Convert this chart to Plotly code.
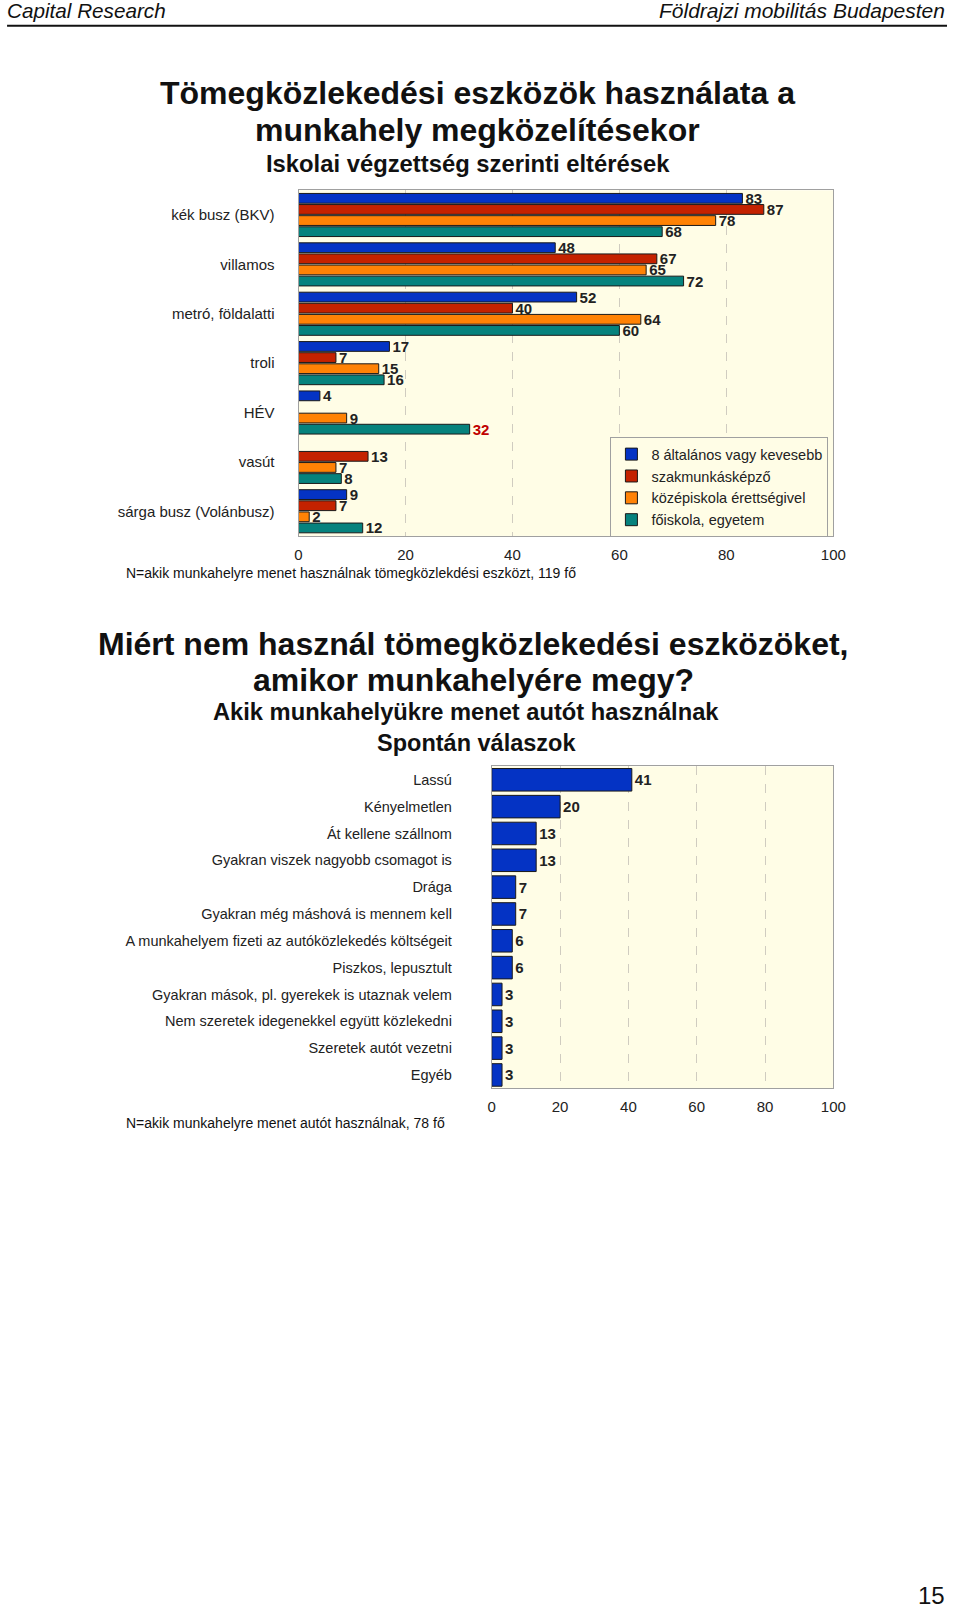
import plotly.graph_objects as go

# ---------- data ----------
modes = ["kék busz (BKV)", "villamos", "metró, földalatti", "troli", "HÉV", "vasút",
         "sárga busz (Volánbusz)"]
series_names = ["8 általános vagy kevesebb", "szakmunkásképző",
                "középiskola érettségivel", "főiskola, egyetem"]
elem = [83, 48, 52, 17, 4, None, 9]
szakm = [87, 67, 40, 7, None, 13, 7]
kozep = [78, 65, 64, 15, 9, 7, 2]
fois = [68, 72, 60, 16, 32, 8, 12]
series_vals = [elem, szakm, kozep, fois]
series_colors = ["#0433C4", "#C42200", "#FF8205", "#06827D"]

reasons = ["Lassú", "Kényelmetlen", "Át kellene szállnom", "Gyakran viszek nagyobb csomagot is",
           "Drága", "Gyakran még máshová is mennem kell",
           "A munkahelyem fizeti az autóközlekedés költségeit", "Piszkos, lepusztult",
           "Gyakran mások, pl. gyerekek is utaznak velem",
           "Nem szeretek idegenekkel együtt közlekedni", "Szeretek autót vezetni", "Egyéb"]
reason_vals = [41, 20, 13, 13, 7, 7, 6, 6, 3, 3, 3, 3]

W, H = 960, 1613
SY = 1613 / 1568.0          # measured coordinates -> page pixels (vertical)
SX = SY * 1.012             # measured coordinates -> page pixels (horizontal)
FONT = "Liberation Sans, Arial, sans-serif"
BG = "#FFFDE6"


def px_y(p):
    return 1 - p * SY / H


def px_x(p):
    return min(1.0, p * SX / W)


fig = go.Figure()

for name, vals, col in zip(series_names, series_vals, series_colors):
    tcol = ["#C00000" if (name == "főiskola, egyetem" and m == "HÉV") else "#222222" for m in modes]
    fig.add_trace(go.Bar(
        y=modes, x=vals, name=name, orientation="h",
        marker=dict(color=col, line=dict(color="#1a1a1a", width=1)),
        text=[("" if v is None else "<b>%d</b>" % v) for v in vals],
        textposition="outside", constraintext="none", cliponaxis=False,
        textfont=dict(family=FONT, size=15, color=tcol),
        xaxis="x", yaxis="y", showlegend=True,
    ))

fig.add_trace(go.Bar(
    y=reasons, x=reason_vals, orientation="h", showlegend=False,
    marker=dict(color="#0433C4", line=dict(color="#1a1a1a", width=1)),
    width=0.84,
    text=["<b>%d</b>" % v for v in reason_vals], textposition="outside", constraintext="none",
    cliponaxis=False,
    textfont=dict(family=FONT, size=15, color="#222222"),
    xaxis="x2", yaxis="y2",
))

axis_common = dict(range=[0, 100], dtick=20, showgrid=True, gridcolor="#D0CCC0",
                   griddash="dash", gridwidth=1, zeroline=False, showline=True,
                   linecolor="#A0A0A0", mirror=True, ticks="",
                   tickfont=dict(family=FONT, size=15, color="#222222"))

fig.update_layout(
    width=W, height=H, margin=dict(l=0, r=0, t=0, b=0),
    paper_bgcolor="white", plot_bgcolor=BG,
    barmode="group", bargap=0.1, bargroupgap=0.12,
    font=dict(family=FONT, color="#222222"),
    xaxis=dict(domain=[px_x(288), px_x(811)], anchor="y", ticklabelstandoff=5, **axis_common),
    yaxis=dict(domain=[px_y(521), px_y(185)], anchor="x", autorange="reversed",
               type="category", showline=True, linecolor="#A0A0A0", mirror=True,
               ticks="", ticklabelstandoff=20, showgrid=False,
               tickfont=dict(family=FONT, size=15, color="#222222")),
    xaxis2=dict(domain=[px_x(477), px_x(811)], anchor="y2", ticklabelstandoff=5, **axis_common),
    yaxis2=dict(domain=[px_y(1058), px_y(745)], anchor="x2", autorange="reversed",
                type="category", showline=True, linecolor="#A0A0A0", mirror=True,
                ticks="", ticklabelstandoff=36, showgrid=False,
                tickfont=dict(family=FONT, size=14.5, color="#222222")),
    legend=dict(x=px_x(593), y=px_y(425), xanchor="left", yanchor="top",
                bgcolor=BG, bordercolor="#A0A0A0", borderwidth=1,
                font=dict(family=FONT, size=14.5, color="#222222"),
                tracegroupgap=0, itemwidth=30, traceorder="normal"),
)

annotations = [
    dict(text="<i>Capital Research</i>", x=px_x(1), y=px_y(10), xanchor="left", size=20.7),
    dict(text="<i>Földrajzi mobilitás Budapesten</i>", x=px_x(931), y=px_y(10), xanchor="right", size=21),
    dict(text="<b>Tömegközlekedési eszközök használata a</b>", x=px_x(463), y=px_y(90), size=32),
    dict(text="<b>munkahely megközelítésekor</b>", x=px_x(463), y=px_y(126), size=32),
    dict(text="<b>Iskolai végzettség szerinti eltérések</b>", x=px_x(454), y=px_y(159), size=23.8),
    dict(text="N=akik munkahelyre menet használnak tömegközlekdési eszközt, 119 fő",
         x=px_x(117), y=px_y(557), xanchor="left", size=14),
    dict(text="<b>Miért nem használ tömegközlekedési eszközöket,</b>", x=px_x(459), y=px_y(626), size=32),
    dict(text="<b>amikor munkahelyére megy?</b>", x=px_x(459), y=px_y(661), size=32),
    dict(text="<b>Akik munkahelyükre menet autót használnak</b>", x=px_x(452), y=px_y(692), size=23.7),
    dict(text="<b>Spontán válaszok</b>", x=px_x(462), y=px_y(722), size=23.5),
    dict(text="N=akik munkahelyre menet autót használnak, 78 fő",
         x=px_x(117), y=px_y(1092), xanchor="left", size=14),
    dict(text="15", x=px_x(931), y=px_y(1551), xanchor="right", size=24),
]
for a in annotations:
    fig.add_annotation(text=a["text"], x=a["x"], y=a["y"], xref="paper", yref="paper",
                       xanchor=a.get("xanchor", "center"), yanchor="middle", showarrow=False,
                       font=dict(family=FONT, size=a["size"], color="#111111"))

fig.add_shape(type="line", xref="paper", yref="paper", x0=px_x(3), x1=px_x(931),
              y0=px_y(25), y1=px_y(25), line=dict(color="#111111", width=2))

fig.write_html("out.html", config={"displayModeBar": False},
               post_script="document.body.style.margin='0';document.body.style.padding='0';"
                           "document.documentElement.style.overflow='hidden';")
